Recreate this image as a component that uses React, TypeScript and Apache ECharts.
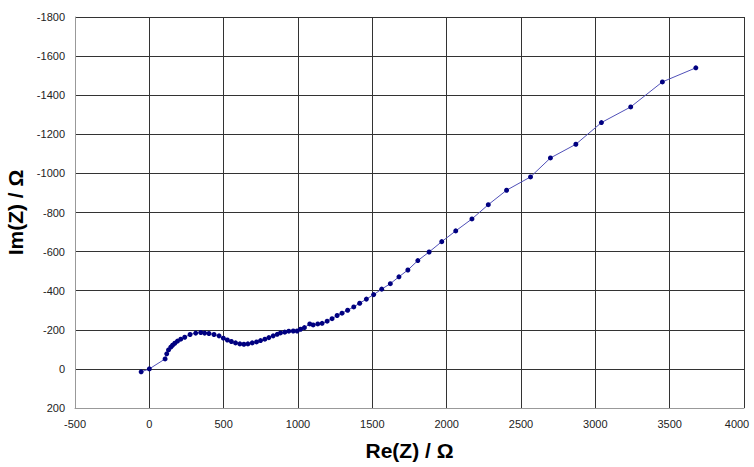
import React, { useEffect, useRef } from "react";
import * as echarts from "echarts";

const reZ: number[] = [
  -55, 0, 106, 117, 129, 144, 156, 171, 189, 211, 238, 274, 312, 346, 372, 401, 435, 469, 498, 525,
  552, 580, 609, 636, 663, 692, 721, 748, 777, 804, 833, 860, 882, 911, 938, 968, 994, 1017, 1043,
  1079, 1102, 1133, 1162, 1196, 1229, 1263, 1296, 1334, 1375, 1415, 1460, 1509, 1563, 1621, 1679,
  1739, 1806, 1882, 1967, 2061, 2170, 2280, 2403, 2564, 2698, 2869, 3041, 3238, 3451, 3676,
];
const imZ: number[] = [
  15, 0, -51, -77, -97, -111, -121, -131, -142, -152, -162, -176, -183, -186, -183, -181, -176, -169,
  -157, -148, -140, -133, -128, -126, -128, -133, -138, -145, -152, -160, -169, -177, -184, -188,
  -193, -194, -194, -203, -211, -230, -225, -230, -233, -244, -257, -273, -285, -300, -317, -336,
  -357, -380, -408, -436, -471, -506, -554, -598, -651, -706, -767, -840, -914, -982, -1079, -1149,
  -1260, -1340, -1468, -1540,
];
const xTitle = "Re(Z) / Ω";
const yTitle = "Im(Z) / Ω";
const X_MAX = 4000;

export default function App() {
  const ref = useRef<HTMLDivElement>(null);
  useEffect(() => {
    if (!ref.current) return;
    const chart = echarts.init(ref.current, undefined, { renderer: "svg" });
    const data = reZ.map((x, i) => [x, imZ[i]]);
    const baseLabel = {
      color: "#222",
      fontFamily: "Liberation Sans, Arial",
      fontSize: 11,
      margin: 10,
    };
    chart.setOption({
      animation: false,
      backgroundColor: "#ffffff",
      grid: { left: 75, right: 10, top: 17, bottom: 59, containLabel: false, outerBoundsMode: "none" },
      xAxis: {
        type: "value",
        min: -500,
        max: X_MAX,
        interval: 500,
        axisLine: { show: true, onZero: false, lineStyle: { color: "#999", width: 1 } },
        axisTick: { show: false },
        axisLabel: {
          ...baseLabel,
          formatter: (v: number) => (v === X_MAX ? `{last|${v}}` : String(v)),
          rich: {
            last: {
              color: "#222",
              fontFamily: "Liberation Sans, Arial",
              fontSize: 11,
              padding: [0, 14, 0, 0],
            },
          },
        },
        splitLine: { show: true, lineStyle: { color: "#333", width: 1 } },
        name: xTitle,
        nameLocation: "middle",
        nameGap: 32,
        nameTextStyle: { color: "#000", fontFamily: "Liberation Sans, Arial", fontSize: 21, fontWeight: "bold" },
      },
      yAxis: {
        type: "value",
        inverse: true,
        min: -1800,
        max: 200,
        interval: 200,
        axisLine: { show: true, onZero: false, lineStyle: { color: "#999", width: 1 } },
        axisTick: { show: false },
        axisLabel: { ...baseLabel, formatter: (v: number) => String(v) },
        splitLine: { show: true, lineStyle: { color: "#333", width: 1 } },
        name: yTitle,
        nameLocation: "middle",
        nameGap: 44,
        nameRotate: 90,
        nameTextStyle: { color: "#000", fontFamily: "Liberation Sans, Arial", fontSize: 21, fontWeight: "bold" },
      },
      series: [
        {
          type: "line",
          data,
          symbol: "circle",
          symbolSize: 5,
          itemStyle: { color: "#000080" },
          lineStyle: { color: "#5050b8", width: 1 },
        },
      ],
    });
    return () => chart.dispose();
  }, []);
  return <div ref={ref} style={{ width: 754, height: 467, position: "absolute", left: 0, top: 0 }} />;
}
